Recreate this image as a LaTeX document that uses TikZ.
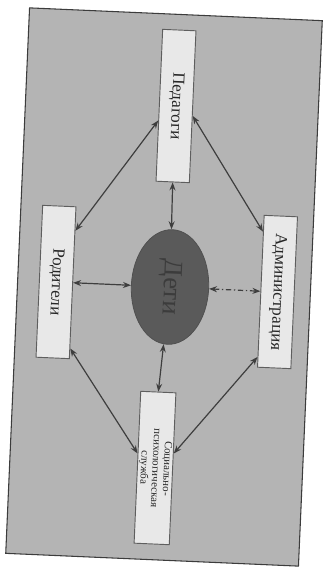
\documentclass[tikz,border=0pt]{standalone}
\usepackage{fontspec}
\setmainfont{Liberation Serif}
\usetikzlibrary{shapes.geometric,arrows.meta,calc}

\definecolor{sheetgray}{HTML}{B4B4B4}
\definecolor{framegray}{HTML}{3C3C3C}
\definecolor{boxfill}{HTML}{E8E8E8}
\definecolor{boxline}{HTML}{5E5E5E}
\definecolor{inkgray}{HTML}{262626}
\definecolor{kidsfill}{HTML}{5A5A5A}
\definecolor{linkgray}{HTML}{3E3E3E}

\begin{document}
\begin{tikzpicture}[x=0.75pt,y=0.75pt,yscale=-1,xscale=1,
  box/.style={draw=boxline,fill=boxfill,line width=0.7pt,rotate=-92.5,
    minimum width=114pt,minimum height=25pt,inner sep=1pt,text=inkgray,
    font=\fontsize{12.8}{14}\selectfont},
  kidsnode/.style={ellipse,draw=framegray!90,fill=kidsfill,line width=0.6pt,rotate=-92.5,
    minimum width=86pt,minimum height=58pt,inner sep=0pt,text=inkgray!90,
    font=\fontsize{20}{22}\selectfont},
  link/.style={draw=linkgray,line width=0.9pt,
    {Stealth[length=6pt,width=4.5pt]}-{Stealth[length=6pt,width=4.5pt]}},
]
\useasboundingbox (0,0) rectangle (326,574);
%set diagram left start at 0, and has height of 574

% Background sheet
\draw[fill=sheetgray,draw=framegray,line width=0.8pt,rotate around={2.5:(164,287)}] (17.5,14) rectangle (310.5,560);

% Text Node
\node[box] (ped) at (176,106) {Педагоги};
% Text Node
\node[box] (rod) at (56,282) {Родители};
% Text Node
\node[box] (adm) at (277.5,292) {Администрация};
% Text Node
\node[box,align=center,font=\fontsize{8.2}{8.6}\selectfont] (soc) at (155,468) {Социально-\\психологическая\\служба};
% Text Node
\node[kidsnode] (kids) at (170,287) {Дети};

% Connection
\draw[link] ($(ped.south west)!0.6!(ped.south east)$) -- ($(rod.north west)!0.16!(rod.north east)$);
% Connection
\draw[link] ($(ped.north west)!0.56!(ped.north east)$) -- ($(adm.south west)!0.11!(adm.south east)$);
% Connection
\draw[link] ($(rod.north west)!0.93!(rod.north east)$) -- ($(soc.south west)!0.41!(soc.south east)$);
% Connection
\draw[link] ($(adm.south west)!0.93!(adm.south east)$) -- ($(soc.north west)!0.4!(soc.north east)$);
% Connection
\draw[link] (ped.east) -- (kids);
% Connection
\draw[link] (kids) -- (soc.west);
% Connection
\draw[link] (rod.north) -- (kids);
% Connection
\draw[link,dash pattern=on 4pt off 2pt on 1pt off 2pt] (kids) -- (adm.south);

\end{tikzpicture}
\end{document}
